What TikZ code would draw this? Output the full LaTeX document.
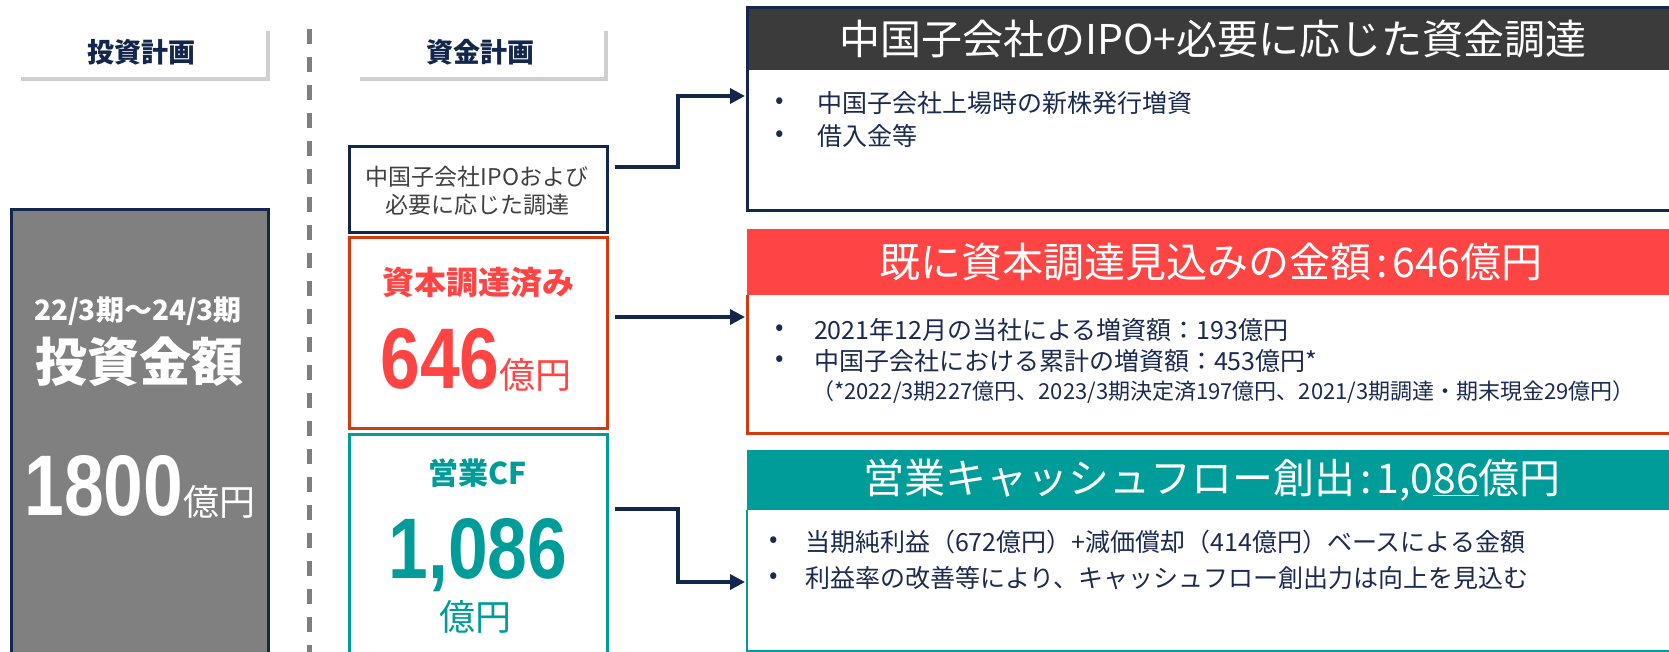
\documentclass[tikz,border=0pt]{standalone}
\usepackage{fontspec}
\setmainfont{Noto Sans CJK JP}
\newfontfamily\numf[FakeStretch=0.83]{Liberation Sans}
\usetikzlibrary{arrows.meta}
\definecolor{navy}{HTML}{13264C}
\definecolor{bodynavy}{HTML}{1A2A50}
\definecolor{hdrgray}{HTML}{3B3B3B}
\definecolor{boxgray}{HTML}{808080}
\definecolor{shadowgray}{HTML}{CFCFCF}
\definecolor{dashgray}{HTML}{7F7F7F}
\definecolor{redhdr}{HTML}{FF4444}
\definecolor{redborder}{HTML}{D03C10}
\definecolor{tealc}{HTML}{009C99}
\definecolor{textgray}{HTML}{404040}
\newcommand{\tcolon}{\kern0.12em:\kern0.12em}
\begin{document}
\begin{tikzpicture}[x=1pt,y=-1pt,
  txt/.style={inner sep=0pt, outer sep=0pt},
  conn/.style={draw=navy, line width=3.5pt, -{Triangle[length=15pt,width=15pt]}},
  tabbox/.style={fill=white, minimum width=249pt, minimum height=50pt, anchor=north west, inner sep=0pt, text=navy, font=\fontsize{27}{27}\selectfont\bfseries},
  srcbox/.style={minimum width=258pt, anchor=north west, inner sep=0pt, fill=white},
  panel/.style={minimum width=960pt, anchor=north west, inner sep=0pt, fill=white},
  ttl/.style={txt, text=white, font=\fontsize{41}{41}\selectfont},
  bul/.style={txt, text=bodynavy, font=\fontsize{25}{25}\selectfont},
  btxt/.style={txt, anchor=west, text=bodynavy, font=\fontsize{25}{25}\selectfont}
]
\useasboundingbox (0,0) rectangle (1669,652);
\fill[white] (0,0) rectangle (1669,652);
\clip (0,0) rectangle (1669,652);

% tabs
\fill[shadowgray] (21,31) rectangle (270,81);
\node[tabbox] (tab1) at (17,27) {投資計画};
\fill[shadowgray] (360,31) rectangle (608,81);
\node[tabbox, minimum width=248pt] (tab2) at (356,27) {資金計画};

% divider
\draw[dashgray, line width=5pt, dash pattern=on 15pt off 13pt] (309,29) -- (309,652);

% investment box
\node[draw=navy, line width=3pt, fill=boxgray, minimum width=257pt, minimum height=470pt, anchor=north west, inner sep=0pt] (invest) at (10,208) {};
\node[txt, text=white, font=\fontsize{28}{28}\selectfont\bfseries] (period) at (138,311) {22/3期～24/3期};
\node[txt, text=white, font=\fontsize{52}{52}\selectfont\bfseries] (amtlabel) at (139,362) {投資金額};
\node[txt, text=white, anchor=base] (amt) at (140,515) {{\numf\bfseries\fontsize{86}{86}\selectfont 1800}{\fontsize{36}{36}\selectfont 億円}};

% source boxes
\node[srcbox, draw=navy, line width=3pt, minimum height=86pt] (ipo) at (348,145) {};
\node[txt, text=textgray, align=center, font=\fontsize{23}{28}\selectfont] (ipotxt) at (477,191) {中国子会社IPOおよび\\必要に応じた調達};

\node[srcbox, draw=redborder, line width=3pt, minimum height=191pt] (cap) at (348,236) {};
\node[txt, text=redhdr, font=\fontsize{32}{32}\selectfont\bfseries] (captitle) at (478,283) {資本調達済み};
\node[txt, text=redhdr, anchor=base] (capamt) at (476,388) {{\numf\bfseries\fontsize{86}{86}\selectfont 646}{\fontsize{36}{36}\selectfont 億円}};

\node[srcbox, draw=tealc, line width=2.5pt, minimum height=240pt] (cf) at (348,433) {};
\node[txt, text=tealc, font=\fontsize{30}{30}\selectfont\bfseries] (cftitle) at (478,473) {営業CF};
\node[txt, text=tealc, anchor=base] (cfamt) at (478,578) {\numf\bfseries\fontsize{86}{86}\selectfont 1,086};
\node[txt, text=tealc, font=\fontsize{36}{36}\selectfont] (cfunit) at (475,617) {億円};

% panel 1
\node[panel, minimum height=203pt] (p1) at (747,8) {};
\fill[hdrgray] (747,8) rectangle (1710,70);
\draw[navy, line width=3pt] (747,8) rectangle (1710,211);
\node[ttl] (t1) at (1213,39) {中国子会社のIPO+必要に応じた資金調達};
\node[bul] (b11) at (780,103) {•};
\node[btxt] (l11) at (817,103) {中国子会社上場時の新株発行増資};
\node[bul] (b12) at (780,136) {•};
\node[btxt] (l12) at (817,136) {借入金等};

% panel 2
\node[panel, minimum height=204pt] (p2) at (747,229) {};
\fill[redhdr] (747,229) rectangle (1710,295);
\draw[redborder, line width=3pt] (747,295) -- (747,433) -- (1710,433);
\node[ttl] (t2) at (1211,262) {既に資本調達見込みの金額\tcolon 646億円};
\node[bul] (b21) at (780,330) {•};
\node[btxt] (l21) at (814,330) {2021年12月の当社による増資額：193億円};
\node[bul] (b22) at (780,361) {•};
\node[btxt] (l22) at (814,361) {中国子会社における累計の増資額：453億円*};
\node[btxt, font=\fontsize{22}{22}\selectfont] (l23) at (812,392) {（*2022/3期227億円、2023/3期決定済197億円、2021/3期調達・期末現金29億円）};

% panel 3
\node[panel, minimum height=201pt] (p3) at (747,450) {};
\fill[tealc] (747,450) rectangle (1710,510);
\draw[tealc, line width=2.5pt] (747,510) -- (747,651) -- (1710,651);
\node[ttl] (t3) at (1212,480) {営業キャッシュフロー創出\tcolon 1,0\underline{86}億円};
\node[bul] (b31) at (774,542) {•};
\node[btxt] (l31) at (805,542) {当期純利益（672億円）+減価償却（414億円）ベースによる金額};
\node[bul] (b32) at (774,578) {•};
\node[btxt] (l32) at (805,578) {利益率の改善等により、キャッシュフロー創出力は向上を見込む};

% connectors
\draw[conn] ([xshift=6pt]ipo.east |- 0,167) -- (678,167) |- ([xshift=-2pt]p1.west |- 0,96);
\draw[conn] ([xshift=6pt]cap.east |- 0,317) -- ([xshift=-2pt]p2.west |- 0,317);
\draw[conn] ([xshift=6pt]cf.east |- 0,509) -- (678,509) |- ([xshift=-2pt]p3.west |- 0,582);
\end{tikzpicture}
\end{document}
